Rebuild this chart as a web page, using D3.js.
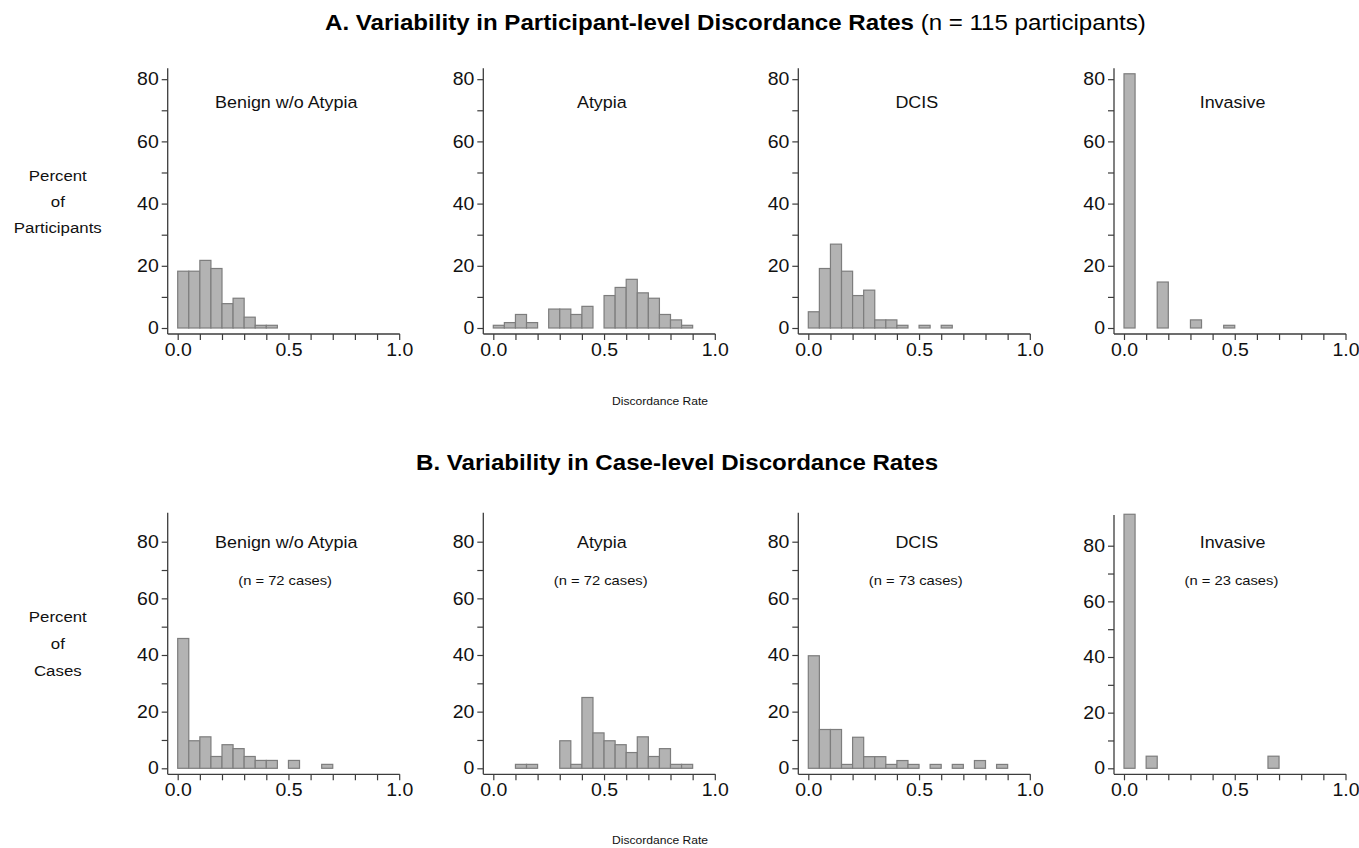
<!DOCTYPE html>
<html>
<head>
<meta charset="utf-8">
<script src="https://cdn.jsdelivr.net/npm/d3@7"></script>
<style>
  body { margin: 0; background: #fff; }
  svg { display: block; font-family: "Liberation Sans", Arial, sans-serif; }
</style>
</head>
<body>
<div id="chart"></div>
<script>
    // bin starts (width 0.05)
    var binStarts = [0, 0.05, 0.10, 0.15, 0.20, 0.25, 0.30, 0.35, 0.40, 0.45,
                     0.50, 0.55, 0.60, 0.65, 0.70, 0.75, 0.80, 0.85, 0.90, 0.95];
    var binWidth = 0.05;
    var categories = ["Benign w/o Atypia", "Atypia", "DCIS", "Invasive"];
    var caseCounts = ["(n = 72 cases)", "(n = 72 cases)", "(n = 73 cases)", "(n = 23 cases)"];
    var xTicks = [0, 0.1, 0.2, 0.3, 0.4, 0.5, 0.6, 0.7, 0.8, 0.9, 1.0];
    var xLabels = [0, 0.5, 1.0];
    var yTicks = [0, 10, 20, 30, 40, 50, 60, 70, 80];
    var yLabels = [0, 20, 40, 60, 80];

    // A. participant-level percentages (n = 115)
    var partBenign   = [18.26, 18.26, 21.74, 19.13, 7.83, 9.57, 3.48, 0.87, 0.87, 0, 0, 0, 0, 0, 0, 0, 0, 0, 0, 0];
    var partAtypia   = [0.87, 1.74, 4.35, 1.74, 0, 6.09, 6.09, 4.35, 6.96, 0, 10.43, 13.04, 15.65, 11.30, 9.57, 4.35, 2.61, 0.87, 0, 0];
    var partDCIS     = [5.22, 19.13, 26.96, 18.26, 10.43, 12.17, 2.61, 2.61, 0.87, 0, 0.87, 0, 0.87, 0, 0, 0, 0, 0, 0, 0];
    var partInvasive = [81.74, 0, 0, 14.78, 0, 0, 2.61, 0, 0, 0.87, 0, 0, 0, 0, 0, 0, 0, 0, 0, 0];

    // B. case-level percentages
    var caseBenign   = [45.83, 9.72, 11.11, 4.17, 8.33, 6.94, 4.17, 2.78, 2.78, 0, 2.78, 0, 0, 1.39, 0, 0, 0, 0, 0, 0];
    var caseAtypia   = [0, 0, 1.39, 1.39, 0, 0, 9.72, 1.39, 25.0, 12.5, 9.72, 8.33, 5.56, 11.11, 4.17, 6.94, 1.39, 1.39, 0, 0];
    var caseDCIS     = [39.73, 13.70, 13.70, 1.37, 10.96, 4.11, 4.11, 1.37, 2.74, 1.37, 0, 1.37, 0, 1.37, 0, 2.74, 0, 1.37, 0, 0];
    var caseInvasive = [91.30, 0, 4.35, 0, 0, 0, 0, 0, 0, 0, 0, 0, 0, 4.35, 0, 0, 0, 0, 0, 0];

    var partSeries = [partBenign, partAtypia, partDCIS, partInvasive];
    var caseSeries = [caseBenign, caseAtypia, caseDCIS, caseInvasive];

    // layout
    var width = 1359, height = 848;
    var SX = 1.1;                     // source text is slightly stretched horizontally
    var panelX0 = [177.7, 493.3, 808.3, 1124];
    var panelW = 221.5;
    var axisColor = "#3c3c3c";
    var barFill = "#b3b3b3", barStroke = "#7d7d7d";

    var svg = d3.select("#chart").append("svg")
        .attr("width", width)
        .attr("height", height);

    function stext(parent, x, y, txt) {
        return parent.append("text")
            .attr("transform", "translate(" + x + "," + y + ") scale(" + SX + ",1)")
            .text(txt);
    }

    function drawPanel(values, i, row) {
        var x0 = panelX0[i];
        var x = d3.scaleLinear().domain([0, 1]).range([x0, x0 + panelW]);
        var y = d3.scaleLinear().domain([0, row.yMax[i]]).range([row.y0, row.y0 - row.h[i]]);
        var g = svg.append("g");

        var axisY = row.y0 + 6;       // x axis sits a bit below zero
        var axisX = x0 - 10;          // y axis sits a bit left of 0.0

        // bars
        var bars = binStarts.map((b, k) => ({ start: b, value: values[k] }))
            .filter(d => d.value > 0);
        g.selectAll("rect.bar")
            .data(bars)
            .enter().append("rect")
            .attr("class", "bar")
            .attr("x", d => x(d.start))
            .attr("width", d => x(d.start + binWidth) - x(d.start))
            .attr("y", d => y(d.value))
            .attr("height", d => y(0) - y(d.value))
            .attr("fill", barFill)
            .attr("stroke", barStroke)
            .attr("stroke-width", 1.2);

        // x axis
        var xa = g.append("g")
            .attr("transform", "translate(0," + axisY + ")")
            .call(d3.axisBottom(x)
                .tickValues(xTicks)
                .tickSize(6)
                .tickFormat(d => xLabels.some(v => Math.abs(v - d) < 1e-9) ? d3.format(".1f")(d) : ""));
        xa.select(".domain").remove();
        xa.selectAll(".tick line").attr("stroke", axisColor).attr("stroke-width", 1.2);
        xa.selectAll(".tick text")
            .attr("fill", "#111")
            .attr("font-size", "17.7px")
            .attr("y", 9)
            .attr("transform", "scale(" + SX + ",1)");
        g.append("line")
            .attr("x1", axisX).attr("x2", x(1) + 0.6)
            .attr("y1", axisY).attr("y2", axisY)
            .attr("stroke", axisColor).attr("stroke-width", 1.3);

        // y axis
        var ya = g.append("g")
            .attr("transform", "translate(" + axisX + ",0)")
            .call(d3.axisLeft(y)
                .tickValues(yTicks)
                .tickSize(6)
                .tickFormat(d => yLabels.includes(d) ? d : ""));
        ya.select(".domain").remove();
        ya.selectAll(".tick line").attr("stroke", axisColor).attr("stroke-width", 1.2);
        ya.selectAll(".tick text")
            .attr("fill", "#111")
            .attr("font-size", "17.7px")
            .attr("x", -9 / SX)
            .attr("transform", "scale(" + SX + ",1)");
        g.append("line")
            .attr("x1", axisX).attr("x2", axisX)
            .attr("y1", axisY).attr("y2", row.y0 - row.h[i])
            .attr("stroke", axisColor).attr("stroke-width", 1.3);

        // panel labels
        stext(g, x(0.49), row.titleY, categories[i])
            .attr("text-anchor", "middle")
            .attr("font-size", "16.3px")
            .attr("fill", "#111");
        if (row.showN) {
            stext(g, x(0.485), row.nY, caseCounts[i])
                .attr("text-anchor", "middle")
                .attr("font-size", "13.4px")
                .attr("fill", "#111");
        }
    }

    var topRow = { y0: 328, h: [259.7, 259.7, 259.7, 259.7], yMax: [83.5, 83.5, 83.5, 83.5], titleY: 108, showN: false };
    var bottomRow = { y0: 768.3, h: [255.5, 255.5, 255.5, 253.2], yMax: [90.2, 90.2, 90.2, 91.0], titleY: 548.3, nY: 585, showN: true };

    partSeries.forEach((s, i) => drawPanel(s, i, topRow));
    caseSeries.forEach((s, i) => drawPanel(s, i, bottomRow));

    // titles
    var tA = stext(svg, 325, 30, "").attr("font-size", "21.9px").attr("fill", "#000");
    tA.append("tspan").attr("font-weight", "bold").text("A. Variability in Participant-level Discordance Rates");
    tA.append("tspan").text(" (n = 115 participants)");

    stext(svg, 416, 470, "B. Variability in Case-level Discordance Rates")
        .attr("font-size", "21.9px").attr("font-weight", "bold").attr("fill", "#000");

    // left axis titles
    var leftTop = ["Percent", "of", "Participants"];
    var leftBottom = ["Percent", "of", "Cases"];
    leftTop.forEach((t, k) => stext(svg, 57.8, 181 + k * 26, t)
        .attr("text-anchor", "middle").attr("font-size", "15.3px").attr("fill", "#111"));
    leftBottom.forEach((t, k) => stext(svg, 57.8, 621.7 + k * 27, t)
        .attr("text-anchor", "middle").attr("font-size", "15.3px").attr("fill", "#111"));

    // x axis titles
    stext(svg, 660, 405, "Discordance Rate")
        .attr("text-anchor", "middle").attr("font-size", "11px").attr("fill", "#111");
    stext(svg, 660, 844, "Discordance Rate")
        .attr("text-anchor", "middle").attr("font-size", "11px").attr("fill", "#111");
</script>
</body>
</html>
